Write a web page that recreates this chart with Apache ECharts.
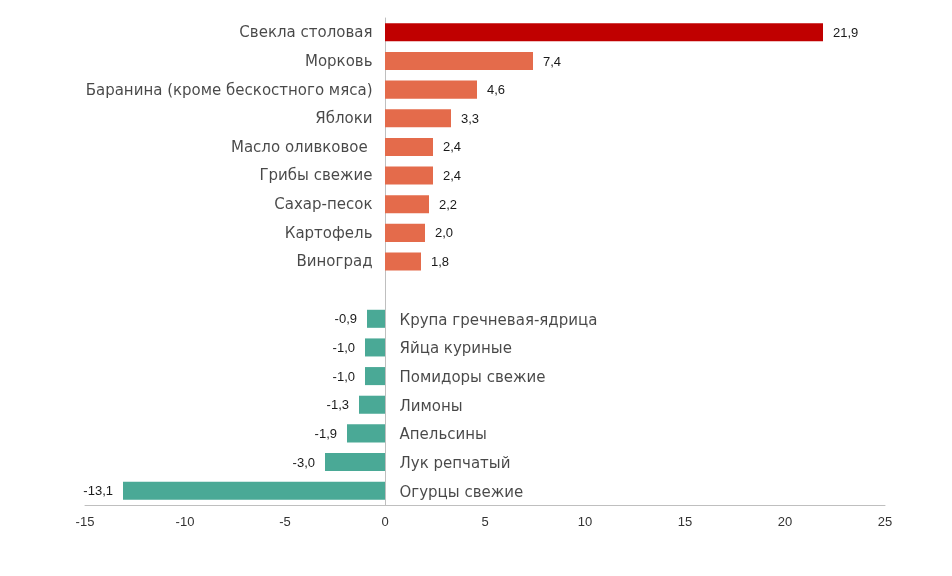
<!DOCTYPE html>
<html><head><meta charset="utf-8">
<script src="https://cdn.jsdelivr.net/npm/echarts@6/dist/echarts.min.js"></script>
<style>html,body{margin:0;padding:0;background:#fff}#c{width:952px;height:576px}</style>
</head><body><div id="c"></div>
<script>
var categories = ['Свекла столовая','Морковь','Баранина (кроме бескостного мяса)','Яблоки','Масло оливковое ','Грибы свежие','Сахар-песок','Картофель','Виноград','',
  'Крупа гречневая-ядрица','Яйца куриные','Помидоры свежие','Лимоны','Апельсины','Лук репчатый','Огурцы свежие'];
var values = [21.9,7.4,4.6,3.3,2.4,2.4,2.2,2.0,1.8,null,-0.9,-1.0,-1.0,-1.3,-1.9,-3.0,-13.1];
var xTicks = [-15,-10,-5,0,5,10,15,20,25];

var FONT = 'Liberation Sans, Arial, sans-serif';
var NAMEFONT = 'DejaVu Sans, sans-serif';
function fmt(v){ return v.toFixed(1).replace('.', ','); }

var barData = values.map(function(v, i){
  if (v === null) return null;
  var color = i === 0 ? '#C00000' : (v >= 0 ? '#E46B4B' : '#4AA996');
  return {value: v, itemStyle: {color: color},
    label: {show: true, position: v >= 0 ? 'right' : 'left', distance: 10, offset: [0, 1],
      formatter: fmt(v), fontSize: 13, color: '#1a1a1a', fontFamily: FONT}};
});
var nameData = categories.map(function(c, i){
  var v = values[i];
  if (v === null) return null;
  return {value: [0, i], label: {show: true, position: v >= 0 ? 'left' : 'right',
    distance: v >= 0 ? 12 : 14, offset: [0, v >= 0 ? 1 : 2], formatter: c, fontSize: 15, color: '#1a1a1a', fontFamily: NAMEFONT}};
});

var chart = echarts.init(document.getElementById('c'));
chart.setOption({
  animation: false,
  grid: {left: 85, right: 67, top: 18, bottom: 71},
  xAxis: {type: 'value', min: xTicks[0], max: xTicks[xTicks.length-1], interval: 5,
    splitLine: {show: false},
    axisLine: {show: true, onZero: false, lineStyle: {color: '#BFBFBF'}},
    axisTick: {show: false},
    axisLabel: {fontSize: 13, color: '#333', margin: 11, fontFamily: FONT}},
  yAxis: {type: 'category', data: categories, inverse: true,
    axisLine: {show: true, onZero: true, lineStyle: {color: '#BFBFBF'}},
    axisTick: {show: false}, axisLabel: {show: false}, splitLine: {show: false}},
  series: [
    {type: 'bar', data: barData, barWidth: '63%'},
    {type: 'scatter', data: nameData, symbolSize: 1, itemStyle: {color: 'rgba(0,0,0,0)'}, silent: true}
  ]
});
</script></body></html>
